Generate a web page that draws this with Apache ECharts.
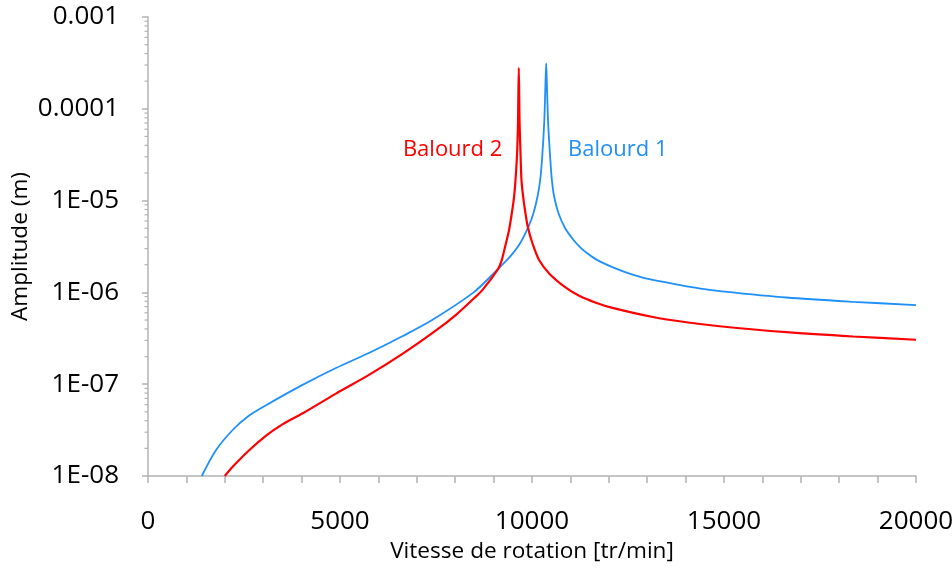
<!DOCTYPE html>
<html>
<head>
<meta charset="utf-8">
<script src="https://cdn.jsdelivr.net/npm/echarts@6/dist/echarts.min.js"></script>
<style>
  html, body { margin: 0; padding: 0; background: #fff; }
  #chart { width: 952px; height: 569px; }
</style>
</head>
<body>
<div id="chart"></div>
<script>
// Unbalance response: amplitude vs rotation speed
const seriesNames = ['Balourd 1', 'Balourd 2'];
const seriesColors = ['#1f8ffa', '#ff0000'];

// Balourd 1 (critical speed 10369 tr/min)
const speeds1 = [1400, 1773, 2205, 2600, 3076, 4000, 4895, 5765, 6635, 7400, 8480, 8995,
  9170, 9430, 9691, 9908, 10038, 10142, 10213, 10269, 10319, 10347, 10369, 10391, 10419,
  10469, 10518, 10578, 10690, 10864, 11081, 11256, 11430, 11691, 12124, 12559, 12994,
  13863, 14384, 14886, 16625, 18361, 20000];
const amps1 = [1.0e-8, 1.92e-8, 3.17e-8, 4.45e-8, 5.9e-8, 9.7e-8, 1.5e-7, 2.2e-7, 3.35e-7,
  5.0e-7, 1.0e-6, 1.6e-6, 1.9e-6, 2.45e-6, 3.43e-6, 5.2e-6, 7.28e-6, 1.1e-5, 1.67e-5,
  3.14e-5, 7.24e-5, 1.67e-4, 3.13e-4, 1.67e-4, 7.24e-5, 3.14e-5, 1.67e-5, 1.1e-5, 7.28e-6,
  4.99e-6, 3.72e-6, 3.1e-6, 2.69e-6, 2.26e-6, 1.86e-6, 1.59e-6, 1.41e-6, 1.2e-6, 1.1e-6,
  1.035e-6, 8.8e-7, 7.9e-7, 7.28e-7];

// Balourd 2 (critical speed 9656 tr/min)
const speeds2 = [2000, 2205, 2641, 3076, 3500, 4030, 4895, 5765, 6635, 7500, 8021, 8490,
  8706, 9098, 9200, 9299, 9403, 9474, 9533, 9570, 9610, 9636, 9656, 9676, 9702, 9726, 9770,
  9830, 9890, 10011, 10185, 10446, 10881, 11228, 11663, 12096, 13147, 14018, 14886, 16625,
  18361, 20000];
const amps2 = [1.0e-8, 1.26e-8, 1.92e-8, 2.75e-8, 3.65e-8, 4.82e-8, 7.9e-8, 1.27e-7,
  2.15e-7, 3.85e-7, 5.7e-7, 8.63e-7, 1.06e-6, 1.75e-6, 2.16e-6, 3.15e-6, 4.79e-6, 7.28e-6,
  1.1e-5, 1.67e-5, 3.14e-5, 7.24e-5, 2.8e-4, 7.24e-5, 3.14e-5, 1.67e-5, 1.1e-5, 7.28e-6,
  5.2e-6, 3.43e-6, 2.25e-6, 1.61e-6, 1.125e-6, 9.2e-7, 7.73e-7, 6.79e-7, 5.4e-7, 4.73e-7,
  4.28e-7, 3.69e-7, 3.31e-7, 3.05e-7];

const peakSpeeds = [10369, 9656];

const xTickLabels = ['0', '5000', '10000', '15000', '20000'];
const yTickLabels = ['1E-08', '1E-07', '1E-06', '1E-05', '0.0001', '0.001'];

const FONT = 'Open Sans';
const AXIS_GREY = '#b3b3b3';

// log-spaced minor ticks (2..9 in each decade)
const yMinorTicks = [];
for (let e = -8; e < -3; e++) {
  for (let m = 2; m <= 9; m++) yMinorTicks.push(m * Math.pow(10, e));
}

function buildData(speeds, amps, peak, labelOffset) {
  return speeds.map((s, i) => {
    const item = { value: [s, amps[i]] };
    if (s === peak) {
      item.label = {
        show: true,
        position: 'top',
        offset: labelOffset,
        formatter: (p) => String(p.value[0]),
        color: '#000',
        fontFamily: FONT,
        fontSize: 22
      };
    }
    return item;
  });
}

function nameMark(text, color, coord) {
  return {
    silent: true,
    symbol: 'rect',
    symbolSize: 1,
    itemStyle: { color: 'rgba(0,0,0,0)' },
    label: {
      show: true,
      position: 'inside',
      formatter: text,
      color: color,
      fontFamily: FONT,
      fontSize: 22
    },
    data: [{ coord: coord }]
  };
}

const chart = echarts.init(document.getElementById('chart'), null, { renderer: 'canvas' });

chart.setOption({
  animation: false,
  backgroundColor: '#fff',
  grid: { left: 148, right: 36, top: 17, bottom: 93, containLabel: false, outerBoundsMode: 'none' },
  xAxis: {
    type: 'value',
    min: 0,
    max: 20000,
    interval: 1000,
    name: 'Vitesse de rotation [tr/min]',
    nameLocation: 'middle',
    nameGap: 64,
    nameMoveOverlap: false,
    nameTextStyle: { fontFamily: FONT, fontSize: 22.6, color: '#000' },
    axisLine: { lineStyle: { color: AXIS_GREY, width: 1.5 } },
    axisTick: { show: true, length: 7, lineStyle: { color: AXIS_GREY, width: 1.5 } },
    axisLabel: {
      margin: 33,
      fontFamily: FONT,
      fontSize: 26,
      color: '#000',
      formatter: (v) => (v % 5000 === 0 ? xTickLabels[v / 5000] : '')
    },
    splitLine: { show: false }
  },
  yAxis: {
    type: 'log',
    logBase: 10,
    min: 1e-8,
    max: 1e-3,
    name: 'Amplitude (m)',
    nameLocation: 'middle',
    nameGap: 116,
    nameMoveOverlap: false,
    nameTextStyle: { fontFamily: FONT, fontSize: 22.6, color: '#000' },
    axisLine: { show: true, lineStyle: { color: AXIS_GREY, width: 1.5 } },
    axisTick: { show: true, length: 6, lineStyle: { color: AXIS_GREY, width: 1.5 } },
    axisLabel: {
      margin: 29,
      fontFamily: FONT,
      fontSize: 26,
      color: '#000',
      formatter: (v) => yTickLabels[Math.round(Math.log10(v)) + 8]
    },
    splitLine: { show: false }
  },
  series: [
    {
      name: seriesNames[0],
      type: 'line',
      data: buildData(speeds1, amps1, peakSpeeds[0], [34, -1]),
      showSymbol: false,
      symbol: 'none',
      smooth: 0.3,
      lineStyle: { color: seriesColors[0], width: 1.8 },
      itemStyle: { color: seriesColors[0] },
      markPoint: nameMark(seriesNames[0], seriesColors[0], [12234, 3.6e-5]),
      z: 2
    },
    {
      name: seriesNames[1],
      type: 'line',
      data: buildData(speeds2, amps2, peakSpeeds[1], [-55, -6]),
      showSymbol: false,
      symbol: 'none',
      smooth: 0.3,
      lineStyle: { color: seriesColors[1], width: 2.2 },
      itemStyle: { color: seriesColors[1] },
      markPoint: nameMark(seriesNames[1], seriesColors[1], [7933, 3.6e-5]),
      z: 3
    },
    {
      // minor ticks on the logarithmic amplitude axis
      type: 'custom',
      silent: true,
      clip: false,
      data: yMinorTicks.map((v) => [0, v]),
      renderItem: (params, api) => {
        const p = api.coord([api.value(0), api.value(1)]);
        return {
          type: 'line',
          shape: { x1: p[0] - 3.5, y1: p[1], x2: p[0], y2: p[1] },
          style: { stroke: AXIS_GREY, lineWidth: 1.2 }
        };
      },
      z: 1
    }
  ]
});
</script>
</body>
</html>
